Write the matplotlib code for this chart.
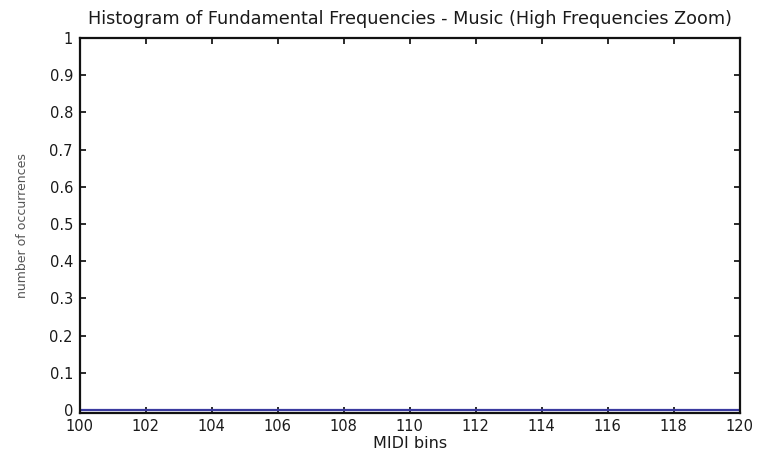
import matplotlib
matplotlib.use("Agg")
from matplotlib import pyplot as plt

# MIDI bins shown in the zoomed view and their (empty) counts
midi_bins = [100, 101, 102, 103, 104, 105, 106, 107, 108, 109, 110,
             111, 112, 113, 114, 115, 116, 117, 118, 119, 120]
counts = [0, 0, 0, 0, 0, 0, 0, 0, 0, 0, 0,
          0, 0, 0, 0, 0, 0, 0, 0, 0, 0]

x_ticks = [100, 102, 104, 106, 108, 110, 112, 114, 116, 118, 120]
y_ticks = [0, 0.1, 0.2, 0.3, 0.4, 0.5, 0.6, 0.7, 0.8, 0.9, 1]
y_tick_labels = ["0", "0.1", "0.2", "0.3", "0.4", "0.5", "0.6", "0.7",
                 "0.8", "0.9", "1"]

plt.rcParams["font.family"] = ["DejaVu Sans"]

fig = plt.figure(figsize=(7.61, 4.51), dpi=100)
ax = fig.add_axes([0.105, 0.084, 0.867, 0.832])

ax.plot(midi_bins, counts, color="#3a3aa0", linewidth=1.6)

ax.set_xlim(100, 120)
ax.set_ylim(-0.008, 1)
ax.set_xticks(x_ticks)
ax.set_yticks(y_ticks)
ax.set_yticklabels(y_tick_labels)
ax.tick_params(direction="in", top=True, right=True, length=4.5, width=1.3,
               labelsize=10.5, colors="#1a1a1a")
ax.tick_params(axis="y", pad=5)
ax.tick_params(axis="x", pad=4)
for s in ax.spines.values():
    s.set_linewidth(1.6)
    s.set_color("#111111")

ax.set_title("Histogram of Fundamental Frequencies - Music (High Frequencies Zoom)",
             fontsize=12.7, color="#1a1a1a", pad=10)
ax.set_xlabel("MIDI bins", fontsize=11.5, color="#1a1a1a", labelpad=2)
ax.set_ylabel("number of occurrences", fontsize=9, color="#555555", labelpad=15)

fig.savefig("out.png", dpi=100)
